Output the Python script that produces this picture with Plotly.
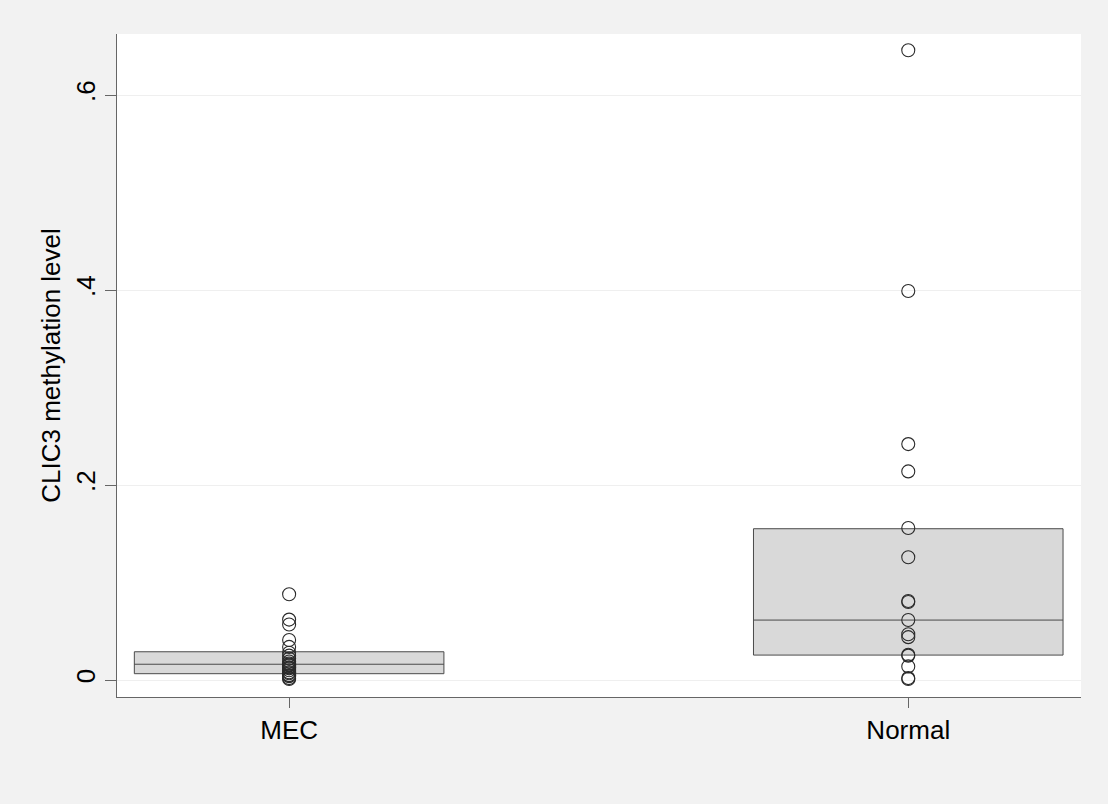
import plotly.graph_objects as go

# Data
groups = ["MEC", "Normal"]
q1 = [0.0065, 0.0256]
median = [0.0162, 0.0615]
q3 = [0.0290, 0.1552]

mec_values = [0.088, 0.062, 0.057, 0.041, 0.034, 0.028, 0.025, 0.022, 0.019,
              0.017, 0.016, 0.015, 0.013, 0.012, 0.010, 0.008, 0.007, 0.005,
              0.004, 0.002, 0.001]
normal_values = [0.646, 0.399, 0.242, 0.214, 0.156, 0.126, 0.081, 0.080,
                 0.0615, 0.047, 0.044, 0.026, 0.025, 0.014, 0.002, 0.001]

ytick_vals = [0, 0.2, 0.4, 0.6]
ytick_text = ["0", ".2", ".4", ".6"]

font_family = "Liberation Sans, Arial, Helvetica, sans-serif"

fig = go.Figure()

for i, g in enumerate(groups):
    fig.add_trace(go.Box(
        x=[i], q1=[q1[i]], median=[median[i]], q3=[q3[i]],
        lowerfence=[q1[i]], upperfence=[q3[i]],
        width=0.5, fillcolor="#d9d9d9",
        line=dict(color="#4a4a4a", width=1),
        boxpoints=False, whiskerwidth=0, showlegend=False, name=g,
        hoverinfo="skip",
    ))

for i, vals in enumerate([mec_values, normal_values]):
    fig.add_trace(go.Scatter(
        x=[i] * len(vals), y=vals, mode="markers",
        marker=dict(symbol="circle-open", size=13,
                    color="#2a2a2a", line=dict(width=1.1, color="#2a2a2a")),
        showlegend=False, name=groups[i],
    ))

fig.update_layout(
    width=1108, height=804,
    paper_bgcolor="#f2f2f2", plot_bgcolor="#ffffff",
    margin=dict(l=117, r=27, t=34, b=107),
    font=dict(family=font_family, size=26, color="#000000"),
    showlegend=False,
)

fig.update_xaxes(
    range=[-0.278, 1.279], tickvals=[0, 1], ticktext=groups,
    showgrid=False, zeroline=False,
    showline=True, linecolor="#666666", linewidth=1.2,
    ticks="outside", ticklen=10, tickcolor="#666666", tickwidth=1,
    tickfont=dict(size=26, color="#000000"),
)

fig.update_yaxes(
    range=[-0.0174, 0.6626], tickvals=ytick_vals, ticktext=ytick_text,
    tickangle=-90,
    showgrid=True, gridcolor="#efefef", gridwidth=1, zeroline=False,
    showline=True, linecolor="#666666", linewidth=1.2,
    ticks="outside", ticklen=11, tickcolor="#666666", tickwidth=1,
    tickfont=dict(size=26, color="#000000"),
    title=dict(text="CLIC3 methylation level", font=dict(size=26, color="#000000"),
               standoff=2),
)

fig.write_html(
    "out.html",
    config={"displayModeBar": False},
    post_script="document.body.style.margin='0';document.body.style.background='#f2f2f2';",
)
